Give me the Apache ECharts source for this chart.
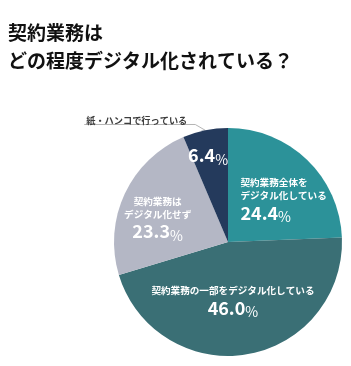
<!DOCTYPE html>
<html>
<head>
<meta charset="utf-8">
<script src="https://cdn.jsdelivr.net/npm/echarts@6/dist/echarts.min.js"></script>
<style>
  html, body { margin: 0; padding: 0; background: #fff; }
  #chart { width: 351px; height: 366px; }
</style>
</head>
<body>
<div id="chart"></div>
<script>
// 契約業務のデジタル化の程度 (%)
var categories = [
    '契約業務全体を\nデジタル化している',
    '契約業務の一部をデジタル化している',
    '契約業務は\nデジタル化せず',
    '紙・ハンコで行っている'
];
var values = [24.4, 46.0, 23.3, 6.4];
var colors = ['#2c9299', '#3a6f75', '#b4b7c5', '#243a5c'];

// ラベル位置の微調整 (px)
var offsets = [[14, 1], [-5, 0], [-16, 2], [-8, -28]];

var font = '"Noto Sans CJK JP", "Noto Sans", sans-serif';

function numero(p) {
    return '{v|' + p.value.toFixed(1) + '}{p|%}';
}

var dados = [];
var dadosFora = [];
for (var i = 0; i < categories.length; i++) {
    var item = {
        value: values[i],
        name: categories[i],
        itemStyle: { color: colors[i] }
    };
    if (i === 0) {
        item.label = { rich: { n: { align: 'left' }, v: { align: 'left' }, p: { align: 'left' } } };
    }
    if (i === 3) {
        // 6.4% は数字だけ中に
        item.label = { formatter: numero };
    }
    dados.push(item);

    dadosFora.push({
        value: values[i],
        name: categories[i],
        label: { show: i === 3 },
        labelLine: { show: i === 3 }
    });
}

var chart = echarts.init(document.getElementById('chart'));
chart.setOption({
    backgroundColor: '#ffffff',
    animation: false,
    title: {
        text: '契約業務は\nどの程度デジタル化されている？',
        left: 3,
        top: 14,
        textStyle: {
            fontFamily: font,
            fontSize: 19,
            fontWeight: 'bold',
            lineHeight: 28,
            color: '#111111'
        }
    },
    series: [{
        name: 'デジタル化',
        type: 'pie',
        center: [228, 242],
        radius: [0, 114],
        startAngle: 90,
        clockwise: true,
        silent: true,
        data: dados,
        label: {
            show: true,
            position: 'inside',
            fontFamily: font,
            color: '#ffffff',
            formatter: function (p) {
                var linhas = p.name.split('\n').map(function (s) { return '{n|' + s + '}'; });
                return linhas.join('\n') + '\n' + numero(p);
            },
            rich: {
                n: { fontFamily: font, fontSize: 9.6, fontWeight: 'bold', color: '#ffffff', lineHeight: 13 },
                v: { fontFamily: font, fontSize: 18, fontWeight: 'bold', color: '#ffffff', lineHeight: 22 },
                p: { fontFamily: font, fontSize: 14, fontWeight: 'normal', color: '#ffffff', lineHeight: 22, verticalAlign: 'bottom' }
            }
        },
        labelLayout: function (params) {
            var o = offsets[params.dataIndex];
            return { dx: o[0], dy: o[1] };
        }
    }, {
        name: 'fora',
        type: 'pie',
        center: [228, 242],
        radius: [0, 114],
        startAngle: 90,
        clockwise: true,
        silent: true,
        data: dadosFora,
        itemStyle: { color: 'rgba(0,0,0,0)' },
        label: {
            position: 'outside',
            fontFamily: font,
            fontSize: 9.2,
            fontWeight: 'bold',
            color: '#3d3d3d',
            padding: [0, 0, 12, 0],
            distanceToLabelLine: 4
        },
        labelLine: {
            length: 10,
            length2: 12,
            lineStyle: { color: '#b5b5b5', width: 1 }
        },
        labelLayout: function (params) {
            var pts = params.labelLinePoints;
            if (!pts) return {};
            var y = pts[1][1] + 4;
            return {
                labelLinePoints: [pts[0], [pts[0][0] - 10, y], [params.labelRect.x - 2, y]]
            };
        }
    }]
});
</script>
</body>
</html>
